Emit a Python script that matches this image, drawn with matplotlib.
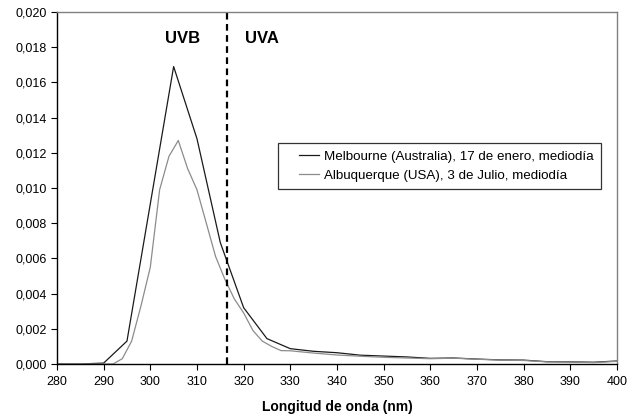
import matplotlib
matplotlib.use("Agg")
import matplotlib.pyplot as plt
from matplotlib.legend_handler import HandlerLine2D
from matplotlib.ticker import FuncFormatter, MultipleLocator

plt.rcParams["font.family"] = ["Liberation Sans", "DejaVu Sans"]

# Melbourne (Australia), 17 de enero
mel_nm = [280, 285, 290, 295, 300, 305, 310, 315, 320, 325, 330, 335, 340,
          345, 350, 355, 360, 365, 370, 375, 380, 385, 390, 395, 400]
mel_val = [0.0, 0.0, 0.00005, 0.0013, 0.0091, 0.0169, 0.0128, 0.0069, 0.0032,
           0.00144, 0.00087, 0.00072, 0.00064, 0.0005, 0.00045, 0.0004,
           0.00032, 0.00034, 0.00028, 0.00023, 0.00022, 0.00013, 0.00012,
           0.0001, 0.00017]

# Albuquerque (USA), 3 de Julio
alb_nm = [280, 285, 290, 292, 294, 296, 298, 300, 302, 304, 306, 308, 310,
          312, 314, 316, 318, 320, 322, 324, 326, 328, 330, 335, 340, 345,
          350, 355, 360, 365, 370, 375, 380, 385, 390, 395, 400]
alb_val = [0.0, 0.0, 0.0, 0.0, 0.0003, 0.0013, 0.0033, 0.0055, 0.0099, 0.0118,
           0.0127, 0.0111, 0.0099, 0.0080, 0.0061, 0.0048, 0.0037, 0.0029,
           0.0019, 0.0013, 0.0010, 0.00076, 0.00075, 0.00062, 0.00051,
           0.00044, 0.00038, 0.00034, 0.0003, 0.00033, 0.00027, 0.00022,
           0.0002, 0.00012, 0.00011, 0.00008, 0.00015]

fig = plt.figure(figsize=(6.38, 4.19), dpi=100)
ax = fig.add_axes([0.0893, 0.1313, 0.8777, 0.8401])

l1, = ax.plot(mel_nm, mel_val, color="#1a1a1a", linewidth=0.9,
              label="Melbourne (Australia), 17 de enero, mediodía")
l2, = ax.plot(alb_nm, alb_val, color="#8c8c8c", linewidth=0.9,
              label="Albuquerque (USA), 3 de Julio, mediodía")

ax.axvline(316.5, color="black", linestyle=(0, (3, 2)), linewidth=1.6)
ax.text(307, 0.0185, "UVB", ha="center", va="center", fontsize=12, weight="bold")
ax.text(324, 0.0185, "UVA", ha="center", va="center", fontsize=12, weight="bold")

ax.set_xlim(280, 400)
ax.set_ylim(0, 0.020)
ax.xaxis.set_major_locator(MultipleLocator(10))
ax.yaxis.set_major_locator(MultipleLocator(0.002))
ax.yaxis.set_major_formatter(FuncFormatter(lambda v, p: f"{v:.3f}".replace(".", ",")))
ax.tick_params(labelsize=9, direction="out", length=4, width=0.8, colors="black")
ax.tick_params(axis="x", pad=5)
ax.set_xlabel("Longitud de onda (nm)", fontsize=10, weight="bold", labelpad=8)

for s in ["left", "bottom"]:
    ax.spines[s].set_color("black")
    ax.spines[s].set_linewidth(1.0)
for s in ["top", "right"]:
    ax.spines[s].set_color("#808080")
    ax.spines[s].set_linewidth(1.0)

# short legend lines set in from the frame edge
hmap = {l1: HandlerLine2D(xpad=1.0), l2: HandlerLine2D(xpad=1.0)}
leg = ax.legend(loc="upper left", bbox_to_anchor=(0.395, 0.628), fontsize=9.6,
                frameon=True, fancybox=False, handlelength=2.5,
                borderpad=0.55, labelspacing=0.5, handletextpad=0.4,
                borderaxespad=0, handler_map=hmap)
leg.get_frame().set_edgecolor("black")
leg.get_frame().set_linewidth(0.9)

fig.savefig("out.png", dpi=100)
